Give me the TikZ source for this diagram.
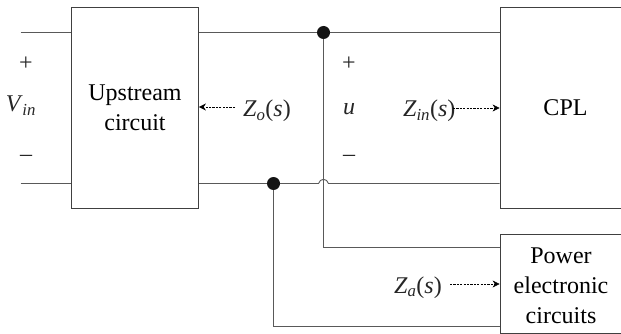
\documentclass[tikz,border=0pt]{standalone}
\usepackage{fontspec}
\setmainfont{Liberation Serif}
\usetikzlibrary{arrows.meta}
\begin{document}
\begin{tikzpicture}[x=1pt,y=-1pt,
  blockbox/.style={draw=black!75,line width=0.8pt,align=center,inner sep=0pt,font=\fontsize{24}{29.5}\selectfont},
  wire/.style={draw=black!65,line width=0.9pt},
  probe/.style={draw=black,line width=0.6pt,dash pattern=on 2.2pt off 1.2pt,-{Stealth[length=7pt,width=7pt]}},
  dotnode/.style={circle,fill=black!92,inner sep=0pt,minimum size=13pt},
  lab/.style={inner sep=0pt,font=\fontsize{24}{28}\selectfont,text=black!85}]
\useasboundingbox (0,0) rectangle (621,334);
\node[blockbox,minimum width=127pt,minimum height=201pt] (up) at (135,108) {Upstream\\circuit};
\node[blockbox,minimum width=131pt,minimum height=201pt] (cpl) at (565.5,108) {CPL};
\node[blockbox,minimum width=122pt,minimum height=99pt,font=\fontsize{24}{30}\selectfont] (pe) at (561,283.5) {\rule{0pt}{20pt}Power\\electronic\\circuits};
\coordinate (ltop) at (20.5,32.5);
\coordinate (lbot) at (20.5,183.5);
\node[dotnode] (d1) at (323.5,32.5) {};
\node[dotnode] (d2) at (273.5,183.5) {};
\coordinate (c1) at (323.5,247.5);
\coordinate (c2) at (273.5,326.5);
\coordinate (h1) at (318.5,183.5);
\coordinate (h2) at (328.5,183.5);
\draw[wire] (ltop) -- (ltop-|up.west);
\draw[wire] (lbot) -- (lbot-|up.west);
\draw[wire] (up.east|-d1) -- (d1) -- (d1-|cpl.west);
\draw[wire] (up.east|-d2) -- (d2);
\draw[wire] (d2) -- (h1) .. controls (320,178) and (327,178) .. (h2) -- (h2-|cpl.west);
\draw[wire] (d1) -- (c1) -- (c1-|pe.west);
\draw[wire] (d2) -- (c2) -- (c2-|pe.west);
\node[lab] (p1) at (26,64) {+};
\node[lab,anchor=base] (vin) at (21,112) {\textit{V}\textsubscript{\kern-0.5pt\textit{in}}};
\node[lab] (m1) at (26,158) {–};
\node[lab] (p2) at (349,64) {+};
\node[lab,anchor=base] (u) at (349,115) {\textit{u}};
\node[lab] (m2) at (349,158) {–};
\node[lab,anchor=base west] (zo) at (243,117) {\textit{Z\textsubscript{o}}(\textit{s})};
\node[lab,anchor=base west] (zi) at (403,117) {\textit{Z\textsubscript{in}}(\textit{s})};
\node[lab,anchor=base west] (za) at (394,293) {\textit{Z\textsubscript{a}}(\textit{s})};
\coordinate (zos) at (235,107);
\coordinate (zis) at (453,108);
\coordinate (zas) at (450,284);
\draw[probe] (zos) -- (zos-|up.east);
\draw[probe] (zis) -- (zis-|cpl.west);
\draw[probe] (zas) -- (zas-|pe.west);
\end{tikzpicture}
\end{document}
